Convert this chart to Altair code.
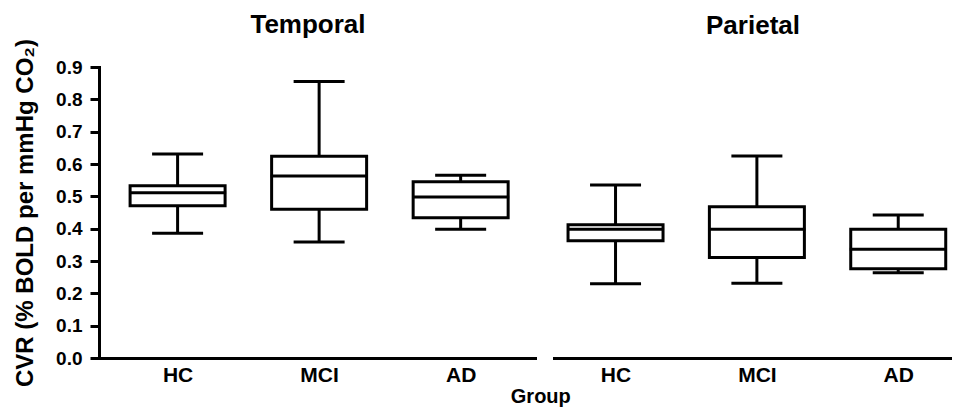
import altair as alt
import pandas as pd

# ---- data ----
groups = ["HC", "MCI", "AD"]
group_pos = [0, 1, 2]

temporal_min = [0.386, 0.359, 0.398]
temporal_q1 = [0.471, 0.460, 0.434]
temporal_median = [0.511, 0.563, 0.498]
temporal_q3 = [0.533, 0.624, 0.545]
temporal_max = [0.631, 0.855, 0.565]

parietal_min = [0.230, 0.231, 0.264]
parietal_q1 = [0.363, 0.311, 0.276]
parietal_median = [0.398, 0.398, 0.336]
parietal_q3 = [0.412, 0.468, 0.398]
parietal_max = [0.535, 0.625, 0.442]

y_ticks = [0.0, 0.1, 0.2, 0.3, 0.4, 0.5, 0.6, 0.7, 0.8, 0.9]

FONT = "Liberation Sans"
LABEL_EXPR = "['HC','MCI','AD'][datum.value]"


def frame(mn, q1, med, q3, mx):
    return pd.DataFrame({
        "group": groups, "pos": group_pos,
        "min": mn, "q1": q1, "median": med, "q3": q3, "max": mx,
    })


def panel(df, title, x_domain, width, left):
    yscale = alt.Scale(domain=[0, 0.9], nice=False, zero=True)
    xscale = alt.Scale(domain=x_domain, nice=False, zero=False)
    xaxis = alt.Axis(values=group_pos, labelExpr=LABEL_EXPR, title=None,
                     labelFont=FONT, labelFontSize=21, labelFontWeight="bold",
                     labelColor="black", labelPadding=6, labelAngle=0,
                     ticks=False, domainWidth=3, domainColor="black",
                     domainCap="square", grid=False)
    if left:
        yaxis = alt.Axis(values=y_ticks, format=".1f",
                         title="CVR (% BOLD per mmHg CO₂)",
                         titleFont=FONT, titleFontSize=24, titleFontWeight="bold",
                         titleColor="black", titlePadding=18,
                         labelFont=FONT, labelFontSize=19, labelFontWeight="bold",
                         labelColor="black", labelPadding=8, labelOverlap=False,
                         tickSize=9, tickWidth=3, tickColor="black",
                         domainWidth=3, domainColor="black", domainCap="square",
                         grid=False)
    else:
        yaxis = None

    base = alt.Chart(df)
    x = alt.X("pos:Q", scale=xscale, axis=xaxis)

    def Y(field):
        return alt.Y(field, scale=yscale, axis=yaxis)

    whisker = base.mark_rule(color="black", strokeWidth=3).encode(
        x=x, y=Y("min:Q"), y2="max:Q")
    box = base.mark_bar(fill="white", stroke="black", strokeWidth=3, size=95).encode(
        x=x, y=Y("q1:Q"), y2="q3:Q")
    med = base.mark_tick(color="black", opacity=1, orient="horizontal", size=97,
                         thickness=3).encode(x=x, y=Y("median:Q"))
    cap_lo = base.mark_tick(color="black", opacity=1, orient="horizontal", size=51,
                            thickness=3).encode(x=x, y=Y("min:Q"))
    cap_hi = base.mark_tick(color="black", opacity=1, orient="horizontal", size=51,
                            thickness=3).encode(x=x, y=Y("max:Q"))

    return alt.layer(whisker, box, med, cap_lo, cap_hi).properties(
        width=width, height=291,
        title=alt.TitleParams(title, font=FONT, fontSize=26, fontWeight="bold",
                              color="black", anchor="middle",
                              offset=0 if left else 28,
                              frame="group", dx=-9 if left else 0),
    )


temporal = panel(frame(temporal_min, temporal_q1, temporal_median, temporal_q3, temporal_max),
                 "Temporal", [-0.52, 2.49], 436, True)
parietal = panel(frame(parietal_min, parietal_q1, parietal_median, parietal_q3, parietal_max),
                 "Parietal", [-0.40, 2.345], 398, False)

chart = alt.hconcat(temporal, parietal, spacing=19).properties(
    padding={"left": 5, "top": 4, "right": 0, "bottom": 0},
    title=alt.TitleParams("Group", orient="bottom", anchor="middle", font=FONT,
                          fontSize=20, fontWeight="bold", color="black",
                          offset=0, dx=58),
).configure(background="white").configure_view(strokeOpacity=0, strokeWidth=0)

chart.save("out.html", embed_options={"renderer": "svg", "actions": False})
